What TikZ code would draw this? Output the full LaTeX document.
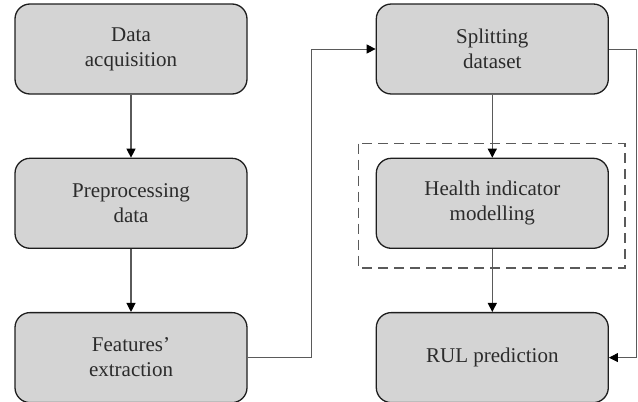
\documentclass[tikz,border=0pt]{standalone}
\usepackage{fontspec}
\setmainfont{Liberation Serif}
\usepackage{xcolor}
\definecolor{cBox}{HTML}{D4D4D4}
\definecolor{cEdge}{HTML}{1E1E1E}
\definecolor{cLine}{HTML}{5A5A5A}
\definecolor{cText}{HTML}{2B2B2B}
\usepackage{tikz}
\usetikzlibrary{positioning,arrows.meta,calc}
\tikzset{
  node-box/.style={draw=cEdge,line width=0.65pt,fill=cBox,rounded corners=7.5pt,
    minimum height=45pt,minimum width=116pt,align=center,text=cText,
    font=\fontsize{10.5}{12.5}\selectfont},
  arrow/.style={-{Triangle[length=4.5pt,width=4.5pt,color=black]},line width=0.6pt,draw=cLine},
  arrow-link/.style={-{Triangle[length=4.5pt,width=4.5pt,color=black]},line width=0.45pt,draw=cLine},
  group-box/.style={dashed,dash pattern=on 5pt off 3pt,line width=0.6pt,draw=cLine},
}

\begin{document}
\begin{tikzpicture}[node distance=31.5pt and 64pt]
  \useasboundingbox (0,0) rectangle (319pt,-201pt);
  \node[node-box] (da) at (65.5pt,-24.5pt) {Data\\acquisition};
  \node[node-box,below=of da]  (pd) {Preprocessing\\data};
  \node[node-box,below=of pd]  (fe) {Features'\\extraction};
  \node[node-box,right=of da]  (sd) {Splitting\\dataset};
  \node[node-box,below=of sd]  (hi) {Health indicator\\modelling};
  \node[node-box,below=of hi]  (rp) {RUL prediction};
  \draw[group-box] ($(hi.north west)+(-8.5pt,7pt)$) rectangle ($(hi.south east)+(8pt,-9.5pt)$);
  \draw[arrow] (da) -- (pd);
  \draw[arrow] (pd) -- (fe);
  \draw[arrow] (sd) -- (hi);
  \draw[arrow] (hi) -- (rp);
  \draw[arrow-link] (fe.east) -- ++(32pt,0) |- (sd.west);
  \draw[arrow-link] (sd.east) -- ++(13.5pt,0) |- (rp.east);
\end{tikzpicture}
\end{document}
